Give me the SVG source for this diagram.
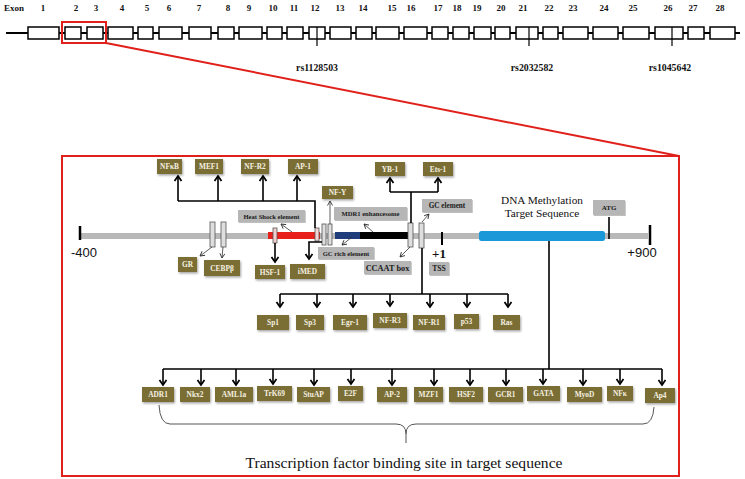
<svg xmlns="http://www.w3.org/2000/svg" width="745" height="479" viewBox="0 0 745 479">
<defs>
<style>
.ex{fill:#fff;stroke:#000;stroke-width:1.5}
.num{font:bold 9px "Liberation Serif",serif;fill:#111;text-anchor:middle}
.rs{font:bold 9.8px "Liberation Serif",serif;fill:#111;text-anchor:middle}
.tf{fill:#7a6e35;filter:url(#sh)}
.tft{font:bold 7.4px "Liberation Serif",serif;fill:#f5f0e0;text-anchor:middle}
.gb{fill:#b6b6b6;filter:url(#sh2)}
.gbt{font:bold 6.6px "Liberation Serif",serif;fill:#1a1a1a;text-anchor:middle}
.sr{fill:#dedede;stroke:#555;stroke-width:0.8}
.thick{fill:none;stroke:#000;stroke-width:1.6;marker-end:url(#ah)}
.ln{fill:none;stroke:#000;stroke-width:1.6}
.thin{fill:none;stroke:#333;stroke-width:0.8;marker-end:url(#ahs)}
.red{fill:none;stroke:#e0201b;stroke-width:2}
</style>
<filter id="sh" x="-20%" y="-30%" width="150%" height="170%"><feDropShadow dx="1" dy="1.5" stdDeviation="0.8" flood-color="#000" flood-opacity="0.35"/></filter>
<filter id="sh2" x="-20%" y="-30%" width="150%" height="170%"><feDropShadow dx="0.8" dy="1" stdDeviation="0.6" flood-color="#000" flood-opacity="0.25"/></filter>
<marker id="ah" markerUnits="userSpaceOnUse" markerWidth="10" markerHeight="10" refX="6" refY="4" orient="auto"><path d="M1,0.5 L6,4 L1,7.5" fill="none" stroke="#000" stroke-width="1.8"/></marker>
<marker id="ahs" markerUnits="userSpaceOnUse" markerWidth="8" markerHeight="8" refX="5" refY="3" orient="auto"><path d="M0.5,0.5 L5,3 L0.5,5.5" fill="none" stroke="#333" stroke-width="0.9"/></marker>
</defs>
<rect width="745" height="479" fill="#fff"/>

<!-- Exon map -->
<g id="exon-map">
<text x="14" y="11" class="num">Exon</text>
<line x1="6" y1="33" x2="740" y2="33" stroke="#000" stroke-width="2"/>
<rect class="ex" x="28" y="27" width="31" height="12"/>
<rect class="ex" x="65" y="27" width="16" height="12"/>
<rect class="ex" x="87" y="27" width="16" height="12"/>
<rect class="ex" x="108" y="27" width="25" height="12"/>
<rect class="ex" x="138" y="27" width="15" height="12"/>
<rect class="ex" x="159" y="27" width="23" height="12"/>
<rect class="ex" x="189" y="27" width="22" height="12"/>
<rect class="ex" x="218" y="27" width="16" height="12"/>
<rect class="ex" x="239" y="27" width="23" height="12"/>
<rect class="ex" x="267" y="27" width="15" height="12"/>
<rect class="ex" x="287" y="27" width="16" height="12"/>
<rect class="ex" x="309" y="27" width="16" height="12"/>
<rect class="ex" x="330" y="27" width="21" height="12"/>
<rect class="ex" x="356" y="27" width="16" height="12"/>
<rect class="ex" x="376" y="27" width="23" height="12"/>
<rect class="ex" x="404" y="27" width="23" height="12"/>
<rect class="ex" x="432" y="27" width="16" height="12"/>
<rect class="ex" x="453" y="27" width="16" height="12"/>
<rect class="ex" x="474" y="27" width="17" height="12"/>
<rect class="ex" x="495" y="27" width="15" height="12"/>
<rect class="ex" x="516" y="27" width="22" height="12"/>
<rect class="ex" x="543" y="27" width="15" height="12"/>
<rect class="ex" x="563" y="27" width="25" height="12"/>
<rect class="ex" x="593" y="27" width="25" height="12"/>
<rect class="ex" x="623" y="27" width="26" height="12"/>
<rect class="ex" x="655" y="27" width="28" height="12"/>
<rect class="ex" x="688" y="27" width="16" height="12"/>
<rect class="ex" x="710" y="27" width="25" height="12"/>
<g class="num">
<text x="43" y="11">1</text><text x="76" y="11">2</text><text x="96" y="11">3</text><text x="122" y="11">4</text>
<text x="147" y="11">5</text><text x="169" y="11">6</text><text x="199" y="11">7</text><text x="228" y="11">8</text>
<text x="249" y="11">9</text><text x="273" y="11">10</text><text x="294" y="11">11</text><text x="315" y="11">12</text>
<text x="340" y="11">13</text><text x="363" y="11">14</text><text x="392" y="11">15</text><text x="411" y="11">16</text>
<text x="438" y="11">17</text><text x="457" y="11">18</text><text x="477" y="11">19</text><text x="501" y="11">20</text>
<text x="523" y="11">21</text><text x="549" y="11">22</text><text x="573" y="11">23</text><text x="604" y="11">24</text>
<text x="633" y="11">25</text><text x="668" y="11">26</text><text x="693" y="11">27</text><text x="720" y="11">28</text>
</g>
<line x1="317" y1="27" x2="317" y2="46" stroke="#000" stroke-width="1.2"/>
<line x1="529" y1="27" x2="529" y2="46" stroke="#000" stroke-width="1.2"/>
<line x1="672" y1="27" x2="672" y2="46" stroke="#000" stroke-width="1.2"/>
<text x="317" y="71" class="rs">rs1128503</text>
<text x="532" y="71" class="rs">rs2032582</text>
<text x="670" y="71" class="rs">rs1045642</text>
</g>

<!-- zoom frame -->
<g id="zoom-frame">
<rect class="red" x="62" y="22" width="44" height="21"/>
<line class="red" x1="106" y1="43" x2="679" y2="156"/>
<rect class="red" x="62" y="156" width="617" height="320"/>
</g>

<!-- promoter sequence -->
<g id="sequence">
<rect x="80" y="233" width="568" height="6" fill="#b8b8b8"/>
<rect x="268" y="232" width="52" height="7" fill="#e8201c"/>
<rect x="335" y="232" width="25" height="7" fill="#1f3d7a"/>
<rect x="360" y="232" width="48" height="7" fill="#000"/>
<rect x="479" y="231" width="126" height="10" rx="2.5" fill="#1b98d8"/>
<line x1="80" y1="226" x2="80" y2="240" stroke="#000" stroke-width="2.5"/>
<line x1="650" y1="225" x2="650" y2="245" stroke="#000" stroke-width="2.5"/>
<line x1="442" y1="232" x2="442" y2="245" stroke="#000" stroke-width="2"/>
<line x1="609" y1="217" x2="609" y2="239" stroke="#000" stroke-width="1.6"/>
<rect class="sr" x="210" y="222" width="5" height="25"/>
<rect class="sr" x="221" y="222" width="5" height="25"/>
<rect class="sr" x="273" y="228" width="4" height="15" style="fill:#f2cfcf"/>
<rect class="sr" x="315" y="228" width="4" height="13" style="fill:#f2d6d6"/>
<rect class="sr" x="322" y="224" width="4" height="21"/>
<rect class="sr" x="328" y="224" width="4" height="21"/>
<rect class="sr" x="408" y="223" width="5" height="24"/>
<rect class="sr" x="419" y="223" width="5" height="25"/>
<text x="84" y="257" font-family="Liberation Sans,sans-serif" font-size="13" text-anchor="middle" fill="#111">-400</text>
<text x="642" y="257" font-family="Liberation Sans,sans-serif" font-size="13" text-anchor="middle" fill="#111">+900</text>
<text x="439" y="258" font-family="Liberation Serif,serif" font-weight="bold" font-size="13" text-anchor="middle" fill="#111">+1</text>
<text x="542" y="204" font-family="Liberation Serif,serif" font-size="11.3" text-anchor="middle" fill="#111">DNA Methylation</text>
<text x="542" y="217" font-family="Liberation Serif,serif" font-size="11.3" text-anchor="middle" fill="#111">Target Sequence</text>
</g>

<!-- connectors -->
<g id="connectors">
<path class="ln" d="M178,201 H315 V228"/>
<path class="thick" d="M178,201 V176"/>
<path class="thick" d="M218,201 V176"/>
<path class="thick" d="M263,201 V176"/>
<path class="thick" d="M297,201 V176"/>
<path class="ln" d="M411,223 V192 M390,192 H438"/>
<path class="thick" d="M390,192 V178"/>
<path class="thick" d="M438,192 V178"/>
<path class="thick" d="M275,243 V262"/>
<path class="thick" d="M322,242 H309 V259"/>
<path class="thin" d="M212,247 L200,256"/>
<path class="thin" d="M223,247 L222,258"/>
<path class="thin" d="M292,232 L281,224"/>
<path class="thin" d="M330,224 V201"/>
<path class="thin" d="M373,232 L364,224"/>
<path class="thin" d="M352,237 L342,245"/>
<path class="thin" d="M410,247 L400,257"/>
<path class="thin" d="M422,222 L429,214"/>
<path class="ln" d="M422,248 V294 M280,294 H508"/>
<path class="thick" d="M280,294 V307"/>
<path class="thick" d="M317,294 V307"/>
<path class="thick" d="M353,294 V307"/>
<path class="thick" d="M390,294 V306"/>
<path class="thick" d="M430,294 V307"/>
<path class="thick" d="M467,294 V307"/>
<path class="thick" d="M508,294 V307"/>
<path class="ln" d="M549,241 V369 M163,369 H662"/>
<path class="thick" d="M163,369 V385"/>
<path class="thick" d="M201,369 V385"/>
<path class="thick" d="M236,369 V385"/>
<path class="thick" d="M273,369 V384"/>
<path class="thick" d="M314,369 V385"/>
<path class="thick" d="M351,369 V384"/>
<path class="thick" d="M392,369 V385"/>
<path class="thick" d="M434,369 V385"/>
<path class="thick" d="M470,369 V385"/>
<path class="thick" d="M506,369 V385"/>
<path class="thick" d="M543,369 V384"/>
<path class="thick" d="M583,369 V385"/>
<path class="thick" d="M620,369 V384"/>
<path class="thick" d="M662,369 V385"/>
<path d="M159,405 Q160,424 170,424 H396 Q406,424 406,434 V443 M406,434 Q406,424 416,424 H643 Q653,424 654,407" fill="none" stroke="#555" stroke-width="1"/>
</g>

<!-- gray element boxes -->
<g id="heat-shock"><rect class="gb" x="238" y="210" width="67" height="12"/><text class="gbt" x="271.5" y="218.5">Heat Shock element</text></g>
<g id="mdr1"><rect class="gb" x="334" y="207" width="73" height="13"/><text class="gbt" x="370.5" y="216">MDR1 enhancesome</text></g>
<g id="gc-rich"><rect class="gb" x="318" y="247" width="56" height="12"/><text class="gbt" x="346" y="255.5">GC rich element</text></g>
<g id="ccaat"><rect class="gb" x="364" y="261" width="47" height="13"/><text class="gbt" x="387.5" y="270.5" style="font-size:8.3px">CCAAT box</text></g>
<g id="gc-element"><rect class="gb" x="422" y="199" width="50" height="13"/><text class="gbt" x="447" y="208" style="font-size:7.2px">GC element</text></g>
<g id="tss"><rect class="gb" x="429" y="262" width="20" height="13"/><text class="gbt" x="439" y="271" style="font-size:7.6px">TSS</text></g>
<g id="atg"><rect class="gb" x="593" y="200" width="32" height="15"/><text class="gbt" x="609" y="210" style="font-size:7px">ATG</text></g>

<!-- transcription factor boxes: top -->
<g id="nfkb"><rect class="tf" x="157" y="159" width="25" height="15"/><text class="tft" x="169.5" y="169">NFκB</text></g>
<g id="mef1"><rect class="tf" x="195" y="159" width="28" height="15"/><text class="tft" x="209" y="169">MEF1</text></g>
<g id="nf-r2"><rect class="tf" x="241" y="159" width="28" height="15"/><text class="tft" x="255" y="169">NF-R2</text></g>
<g id="ap-1"><rect class="tf" x="288" y="159" width="30" height="15"/><text class="tft" x="303" y="169">AP-1</text></g>
<g id="nf-y"><rect class="tf" x="322" y="186" width="31" height="13"/><text class="tft" x="337.5" y="195">NF-Y</text></g>
<g id="yb-1"><rect class="tf" x="375" y="162" width="30" height="14"/><text class="tft" x="390" y="171.5">YB-1</text></g>
<g id="ets-1"><rect class="tf" x="423" y="162" width="30" height="14"/><text class="tft" x="438" y="171.5">Ets-1</text></g>
<g id="gr"><rect class="tf" x="178" y="257" width="19" height="15"/><text class="tft" x="187.5" y="267">GR</text></g>
<g id="cebpb"><rect class="tf" x="204" y="260" width="36" height="16"/><text class="tft" x="222" y="270.5">CEBPβ</text></g>
<g id="hsf-1"><rect class="tf" x="255" y="265" width="30" height="14"/><text class="tft" x="270" y="274.5">HSF-1</text></g>
<g id="imed"><rect class="tf" x="290" y="264" width="35" height="15"/><text class="tft" x="307.5" y="274">iMED</text></g>

<!-- middle row -->
<g id="sp1"><rect class="tf" x="257" y="315" width="32" height="15"/><text class="tft" x="273" y="325">Sp1</text></g>
<g id="sp3"><rect class="tf" x="296" y="315" width="28" height="15"/><text class="tft" x="310" y="325">Sp3</text></g>
<g id="egr-1"><rect class="tf" x="333" y="315" width="34" height="15"/><text class="tft" x="350" y="325">Egr-1</text></g>
<g id="nf-r3"><rect class="tf" x="373" y="313" width="34" height="15"/><text class="tft" x="390" y="323">NF-R3</text></g>
<g id="nf-r1"><rect class="tf" x="413" y="315" width="32" height="15"/><text class="tft" x="429" y="325">NF-R1</text></g>
<g id="p53"><rect class="tf" x="454" y="314" width="25" height="15"/><text class="tft" x="466.5" y="324">p53</text></g>
<g id="ras"><rect class="tf" x="493" y="315" width="27" height="15"/><text class="tft" x="506.5" y="325">Ras</text></g>

<!-- bottom row -->
<g id="adr1"><rect class="tf" x="142" y="387" width="32" height="15"/><text class="tft" x="158" y="397">ADR1</text></g>
<g id="nkx2"><rect class="tf" x="180" y="387" width="30" height="15"/><text class="tft" x="195" y="397">Nkx2</text></g>
<g id="aml1a"><rect class="tf" x="215" y="387" width="38" height="15"/><text class="tft" x="234" y="397">AML1a</text></g>
<g id="trk69"><rect class="tf" x="257" y="386" width="35" height="15"/><text class="tft" x="274.5" y="395.5">TrK69</text></g>
<g id="stuap"><rect class="tf" x="297" y="387" width="33" height="15"/><text class="tft" x="313.5" y="397">StuAP</text></g>
<g id="e2f"><rect class="tf" x="338" y="386" width="25" height="15"/><text class="tft" x="350.5" y="395.5">E2F</text></g>
<g id="ap-2"><rect class="tf" x="377" y="387" width="30" height="15"/><text class="tft" x="392" y="397">AP-2</text></g>
<g id="mzf1"><rect class="tf" x="414" y="387" width="29" height="15"/><text class="tft" x="428.5" y="397">MZF1</text></g>
<g id="hsf2"><rect class="tf" x="449" y="387" width="34" height="15"/><text class="tft" x="466" y="397">HSF2</text></g>
<g id="gcr1"><rect class="tf" x="488" y="387" width="35" height="15"/><text class="tft" x="505.5" y="397">GCR1</text></g>
<g id="gata"><rect class="tf" x="527" y="386" width="33" height="15"/><text class="tft" x="543.5" y="395.5">GATA</text></g>
<g id="myod"><rect class="tf" x="567" y="387" width="35" height="15"/><text class="tft" x="584.5" y="397">MyoD</text></g>
<g id="nfk"><rect class="tf" x="607" y="386" width="26" height="15"/><text class="tft" x="620" y="395.5">NFκ</text></g>
<g id="ap4"><rect class="tf" x="645" y="388" width="30" height="15"/><text class="tft" x="660" y="398">Ap4</text></g>

<text x="404" y="468" font-family="Liberation Serif,serif" font-size="15.6" text-anchor="middle" fill="#111">Transcription factor binding site in target sequence</text>
</svg>
